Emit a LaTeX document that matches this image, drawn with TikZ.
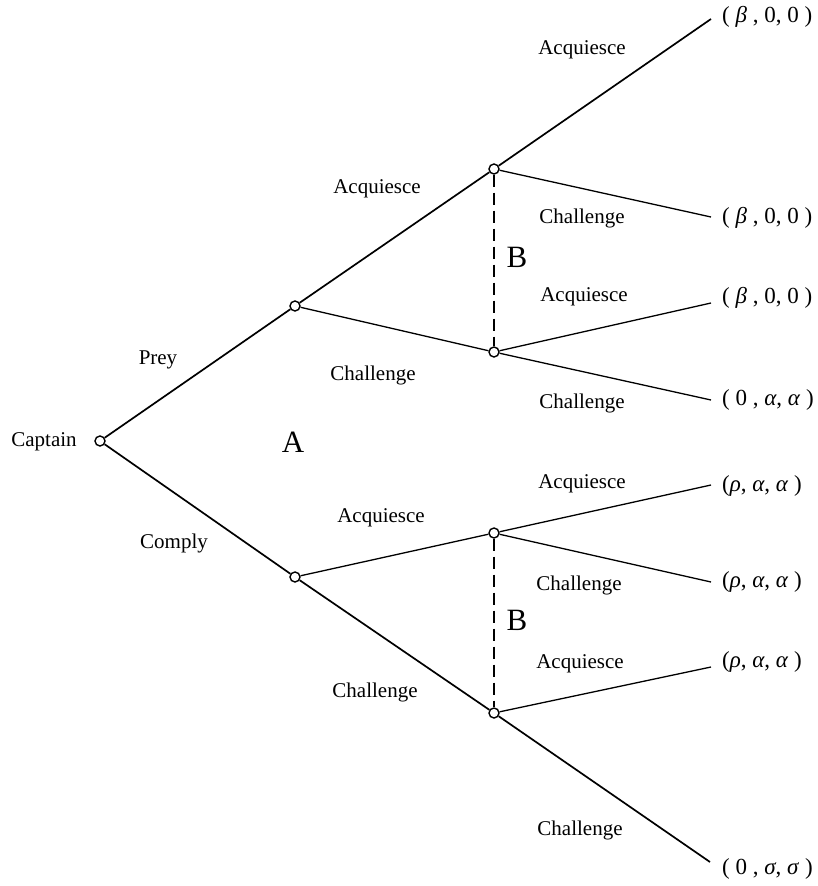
\documentclass[tikz,border=0pt]{standalone}
\usepackage{fontspec}
\setmainfont{Liberation Serif}
\begin{document}
\begin{tikzpicture}[x=1pt,y=-1pt,
  dec/.style={circle,draw,fill=white,line width=1.4pt,minimum size=10pt,inner sep=0pt},
  thick edge/.style={line width=1.7pt},
  thin edge/.style={line width=1.3pt},
  info/.style={line width=1.4pt,dash pattern=on 12pt off 6pt},
  lab/.style={font=\fontsize{21}{23}\selectfont,inner sep=0pt},
  big/.style={font=\fontsize{31}{33}\selectfont,inner sep=0pt},
  pay/.style={font=\fontsize{23}{25}\selectfont,inner sep=0pt,anchor=west}]
\useasboundingbox (0,0) rectangle (817,886);
% decision nodes
\node[dec] (cap) at (100,441) {};
\node[dec] (a1) at (295,306) {};
\node[dec] (a2) at (295,577) {};
\node[dec] (b1) at (494,169) {};
\node[dec] (b2) at (494,352) {};
\node[dec] (b3) at (494,533) {};
\node[dec] (b4) at (494,713) {};
% terminal points
\coordinate (t1) at (711,19);
\coordinate (t2) at (711,217);
\coordinate (t3) at (711,303);
\coordinate (t4) at (711,400);
\coordinate (t5) at (711,485);
\coordinate (t6) at (711,582);
\coordinate (t7) at (711,667);
\coordinate (t8) at (710,862);
% edges
\draw[thick edge] (cap) -- (a1);
\draw[thick edge] (cap) -- (a2);
\draw[thick edge] (a1) -- (b1);
\draw[thin edge] (a1) -- (b2);
\draw[thin edge] (a2) -- (b3);
\draw[thick edge] (a2) -- (b4);
\draw[thick edge] (b1) -- (t1);
\draw[thin edge] (b1) -- (t2);
\draw[thin edge] (b2) -- (t3);
\draw[thin edge] (b2) -- (t4);
\draw[thin edge] (b3) -- (t5);
\draw[thin edge] (b3) -- (t6);
\draw[thin edge] (b4) -- (t7);
\draw[thick edge] (b4) -- (t8);
% information sets
\draw[info] (b1) -- (b2);
\draw[info] (b3) -- (b4);
% labels
\node[lab] (lcap) at (44,442) {Captain};
\node[lab] (lprey) at (158,360) {Prey};
\node[lab] (lcomply) at (174,543) {Comply};
\node[big] (lA) at (293,442) {A};
\node[big] (lB1) at (517,257) {B};
\node[big] (lB2) at (517,620) {B};
\node[lab] (l1) at (377,189) {Acquiesce};
\node[lab] (l2) at (373,375) {Challenge};
\node[lab] (l3) at (381,518) {Acquiesce};
\node[lab] (l4) at (375,692) {Challenge};
\node[lab] (l5) at (582,50) {Acquiesce};
\node[lab] (l6) at (582,218) {Challenge};
\node[lab] (l7) at (584,297) {Acquiesce};
\node[lab] (l8) at (582,403) {Challenge};
\node[lab] (l9) at (582,484) {Acquiesce};
\node[lab] (l10) at (579,585) {Challenge};
\node[lab] (l11) at (580,664) {Acquiesce};
\node[lab] (l12) at (580,830) {Challenge};
% payoffs
\node[pay] (p1) at (722,17) {( \textit{β} , 0, 0 )};
\node[pay] (p2) at (722,218) {( \textit{β} , 0, 0 )};
\node[pay] (p3) at (722,298) {( \textit{β} , 0, 0 )};
\node[pay] (p4) at (722,400) {( 0 , \textit{α}, \textit{α} )};
\node[pay] (p5) at (722,486) {(\textit{ρ}, \textit{α}, \textit{α} )};
\node[pay] (p6) at (722,582) {(\textit{ρ}, \textit{α}, \textit{α} )};
\node[pay] (p7) at (722,662) {(\textit{ρ}, \textit{α}, \textit{α} )};
\node[pay] (p8) at (722,869) {( 0 , \textit{σ}, \textit{σ} )};
\end{tikzpicture}
\end{document}
